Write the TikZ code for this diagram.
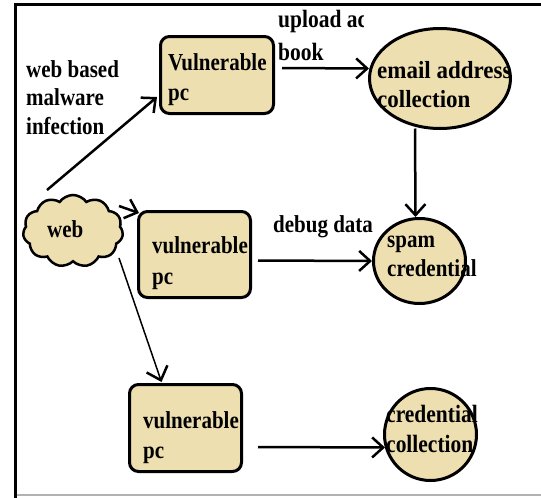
\documentclass[tikz,border=0pt]{standalone}
\usepackage{fontspec}
\setmainfont{Liberation Serif}
\usetikzlibrary{shapes.geometric,shapes.symbols,arrows.meta,calc}
\definecolor{fillc}{RGB}{238,223,177}
\newcommand{\tall}[1]{\scalebox{1}[1.16]{#1}}
\newcommand{\talls}[1]{\scalebox{1}[1.07]{#1}}
\begin{document}
\begin{tikzpicture}[x=1pt,y=-1pt,
  lbl/.style={font=\fontsize{21}{30}\selectfont\bfseries, inner sep=0pt, align=left, anchor=base west},
  pcbox/.style={draw, line width=3pt, rounded corners=9pt, fill=fillc, inner sep=0pt},
  oval/.style={draw, ellipse, line width=3pt, fill=fillc, inner sep=0pt},
  arr/.style={line width=2.5pt, -{Straight Barb[length=11pt,width=20pt]}}]
\useasboundingbox (0,0) rectangle (541,498);
\fill[white] (0,0) rectangle (541,498);
% frame
\draw[gray!60, line width=1.5pt] (15,495) -- (541,495);
\draw[line width=3pt] (15,498) -- (15,4) -- (541,4);
% shapes
\node[cloud, cloud puffs=11, cloud puff arc=110, draw, line width=2.5pt, fill=fillc,
      minimum width=100pt, minimum height=72pt, inner sep=0pt] (web) at (73,231) {};
\node[pcbox, minimum width=113pt, minimum height=77pt] (v1) at (217,75) {};
\node[pcbox, minimum width=112pt, minimum height=86pt] (v2) at (194.5,254.5) {};
\node[pcbox, minimum width=112pt, minimum height=87pt] (v3) at (185.5,428) {};
\node[oval, minimum width=141pt, minimum height=100pt] (email) at (440,78.5) {};
\node[oval, minimum width=92pt, minimum height=85pt] (spam) at (419.5,261) {};
\node[oval, minimum width=92pt, minimum height=92pt] (cred) at (430.5,434.5) {};
% texts (base = baseline of the last line)
\node[lbl] (tweb) at (47,237) {\tall{web}};
\node[lbl] (tv1) at (168,100) {\tall{Vulnerable}\\\tall{pc}};
\node[lbl, font=\fontsize{21}{31}\selectfont\bfseries] (tv2) at (152,284) {\tall{vulnerable}\\\tall{pc}};
\node[lbl] (tv3) at (143,458) {\tall{vulnerable}\\\tall{pc}};
\node[lbl, font=\fontsize{23}{29}\selectfont\bfseries] (temail) at (377,107) {\talls{email address}\\\talls{collection}};
\node[lbl, font=\fontsize{21}{29}\selectfont\bfseries] (tspam) at (387,276) {\tall{spam}\\\tall{credential}};
\node[lbl, font=\fontsize{21.5}{30}\selectfont\bfseries] (tcred) at (386,452) {\tall{credential}\\\tall{collection}};
\node[lbl, font=\fontsize{21}{28.5}\selectfont\bfseries] (tinf) at (26,134) {\tall{web based}\\\tall{malware}\\\tall{infection}};
\begin{scope}
\clip (270,0) rectangle (363,75);
\node[lbl, font=\fontsize{21.5}{33}\selectfont\bfseries] (tup) at (278,60) {\tall{upload ac}\\\tall{book}};
\end{scope}
\node[lbl] (tdebug) at (273,232) {\tall{debug data}};
% connectors
\draw[arr] ($(web.center)+(-26,-41)$) -- ($(v1.west)+(-2,22)$);
\draw[arr] ($(v1.east)+(7,-7)$) -- ($(email.west)+(1,-10)$);
\draw[arr] ($(email.center)+(-25,50)$) -- ($(spam.north)+(-4,0)$);
\draw[arr] ($(web.center)+(46,-25)$) -- ($(v2.north west)+(2,3)$);
\draw[arr] ($(v2.east)+(6,6)$) -- (spam.west);
\draw[line width=1.5pt, -{Straight Barb[length=12pt,width=22pt,line width=2.5pt]}] ($(web.center)+(46,27)$) -- ($(v3.north)+(-24,-1)$);
\draw[arr] ($(v3.east)+(15,19)$) -- ($(cred.west)+(2,13)$);
\end{tikzpicture}
\end{document}
